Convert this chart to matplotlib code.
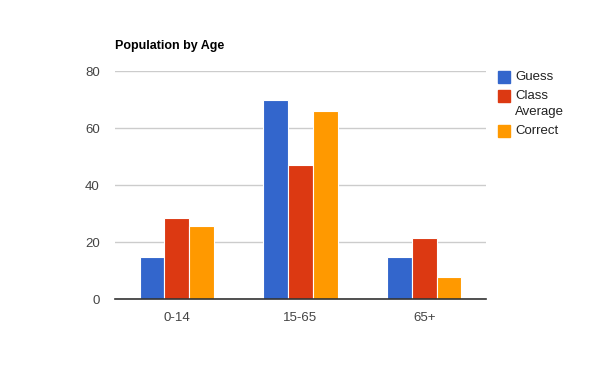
import matplotlib
matplotlib.use("Agg")
import matplotlib.pyplot as plt
from matplotlib.patches import Rectangle
import numpy as np

plt.rcParams['font.family'] = ['Liberation Sans', 'DejaVu Sans']

categories = ["0-14", "15-65", "65+"]
series_names = ["Guess", "Class\nAverage", "Correct"]
guess = [15, 70, 15]
class_avg = [28.5, 47, 21.5]
correct = [25.7, 66, 7.8]
yticks = [0, 20, 40, 60, 80]
colors = ["#3366cc", "#dc3912", "#ff9900"]

fig = plt.figure(figsize=(6, 3.71), dpi=100)
ax = fig.add_axes([115/600, 1 - 299.3/371, (486 - 115)/600, (299.3 - 71.3)/371])

x = np.arange(len(categories))
w = 0.2
for i, vals in enumerate([guess, class_avg, correct]):
    ax.bar(x + (i - 1) * w, vals, width=w, color=colors[i], edgecolor="white",
           linewidth=0.8, zorder=3)

ax.set_xlim(-0.5, len(categories) - 0.5)
ax.set_ylim(0, 80)
ax.set_yticks(yticks)
ax.set_yticklabels([str(v) for v in yticks])
ax.set_xticks(x)
ax.set_xticklabels(categories)
ax.tick_params(axis='both', length=0, labelsize=9.5, colors="#444444")
ax.tick_params(axis='y', pad=11)
ax.tick_params(axis='x', pad=9)
ax.grid(axis='y', color="#cccccc", linewidth=1, zorder=0)
for s in ["top", "right", "left"]:
    ax.spines[s].set_visible(False)
ax.spines["bottom"].set_color("#333333")
ax.spines["bottom"].set_linewidth(1.2)
ax.spines["bottom"].set_zorder(4)

fig.text(115/600, 1 - 46/371, "Population by Age", fontsize=9, fontweight="bold",
         ha="left", va="center", color="#000000")

# legend
leg_y = [77, 96, 131]
for i, name in enumerate(series_names):
    y = leg_y[i]
    fig.patches.append(Rectangle((498/600, 1 - (y + 6)/371), 12/600, 12/371,
                                 transform=fig.transFigure, color=colors[i]))
    fig.text(515/600, 1 - (y - 6)/371, name, fontsize=9.5, ha="left", va="top",
             color="#222222", linespacing=1.45)

fig.savefig("out.png", dpi=100)
